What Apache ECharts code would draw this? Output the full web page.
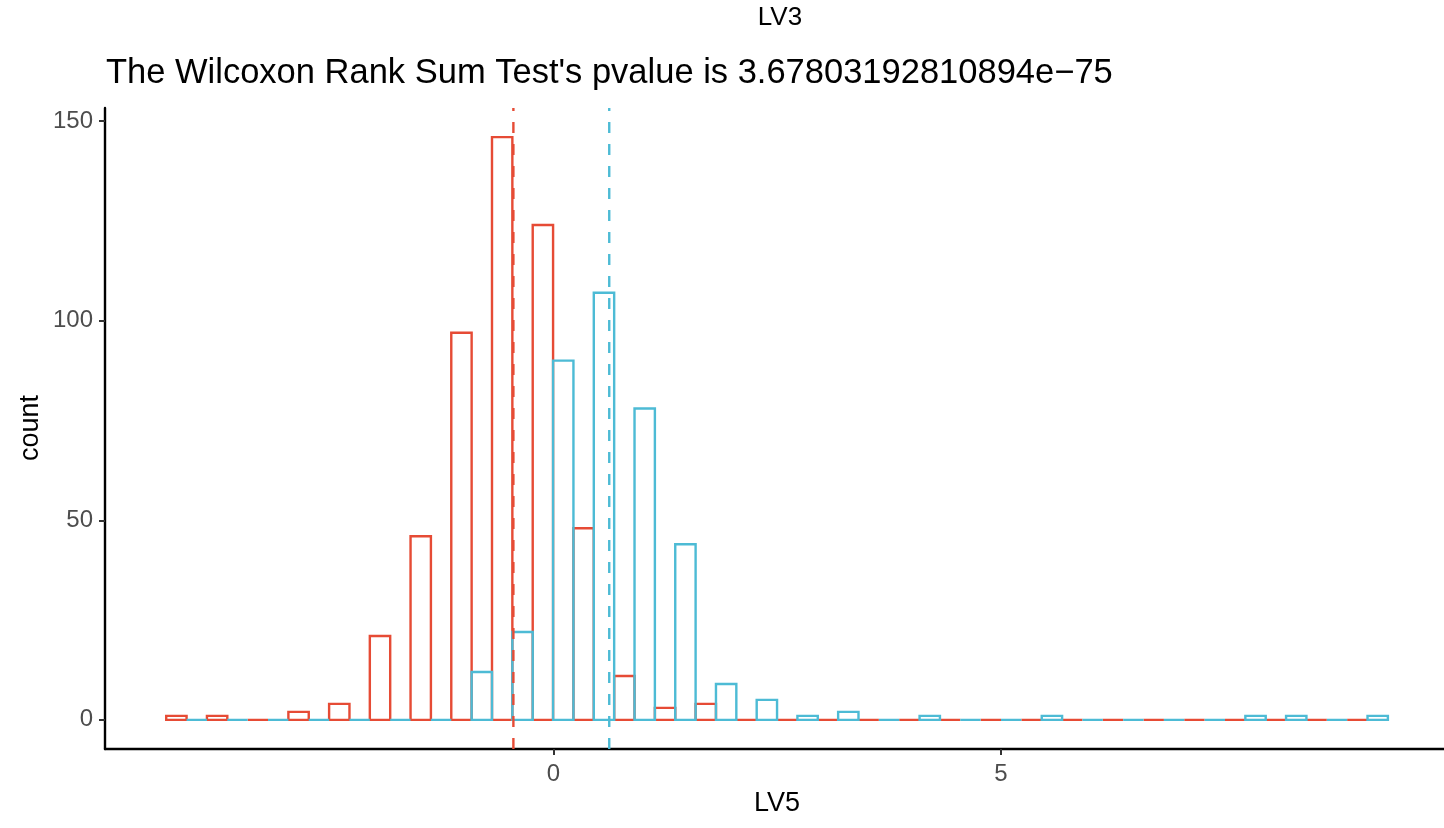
<!DOCTYPE html>
<html>
<head>
<meta charset="utf-8">
<script src="https://cdn.jsdelivr.net/npm/echarts@6/dist/echarts.min.js"></script>
<style>
  html, body { margin: 0; padding: 0; background: #ffffff; }
  #chart { width: 1444px; height: 828px; }
</style>
</head>
<body>
<div id="chart"></div>
<script>
// ---- data ----
const binLefts = [-4.325, -3.870, -3.415, -2.960, -2.505, -2.050, -1.595, -1.140, -0.685, -0.230,
                  0.225, 0.680, 1.135, 1.590, 2.045, 2.500, 2.955, 3.410, 3.865, 4.320,
                  4.775, 5.230, 5.685, 6.140, 6.595, 7.050, 7.505, 7.960, 8.415, 8.870];
const binWidth = 0.455;
const redCounts  = [1, 1, 0, 2, 4, 21, 46, 97, 146, 124, 48, 11, 3, 4, 0, 0, 0, 0, 0, 0,
                    0, 0, 0, 0, 0, 0, 0, 0, 0, 0];
const blueCounts = [0, 0, 0, 0, 0, 0, 0, 12, 22, 90, 107, 78, 44, 9, 5, 1, 2, 0, 1, 0,
                    0, 1, 0, 0, 0, 0, 1, 1, 0, 1];
const redMean = -0.446;
const blueMean = 0.625;
const xTicks = [0, 5];
const yTicks = [0, 50, 100, 150];
const titleText = 'LV3';
const subtitleText = "The Wilcoxon Rank Sum Test's pvalue is 3.67803192810894e\u221275";
const xName = 'LV5';
const yName = 'count';

const RED = '#E64B35';
const BLUE = '#4DBBD5';
const FONT = "'Liberation Sans', Arial, Helvetica, sans-serif";

const xMin = -5.009, xMax = 9.952;
const yMin = -7.3, yMax = 153.3;

function barData(counts, half) {
  return counts.map((c, i) => {
    const l = binLefts[i] + half * binWidth / 2;
    return [l, l + binWidth / 2, c];
  });
}

function renderBar(color) {
  return function (params, api) {
    const p0 = api.coord([api.value(0), 0]);
    const p1 = api.coord([api.value(1), api.value(2)]);
    return {
      type: 'rect',
      shape: { x: p0[0], y: p1[1], width: p1[0] - p0[0], height: p0[1] - p1[1] },
      style: { fill: 'none', stroke: color, lineWidth: 2.4 }
    };
  };
}

const chart = echarts.init(document.getElementById('chart'), null, { renderer: 'canvas' });

const axisLabelStyle = { color: '#4D4D4D', fontSize: 24, fontFamily: FONT };

chart.setOption({
  backgroundColor: '#ffffff',
  animation: false,
  grid: { left: 105, right: 0, top: 108, bottom: 79, containLabel: false },
  xAxis: {
    type: 'value', min: xMin, max: xMax,
    axisLine: { show: true, onZero: false, lineStyle: { color: '#000', width: 2.4 } },
    axisTick: { show: true, customValues: xTicks, length: 6, lineStyle: { color: '#333', width: 2 } },
    axisLabel: Object.assign({ customValues: xTicks, margin: 13 }, axisLabelStyle),
    splitLine: { show: false }
  },
  yAxis: {
    type: 'value', min: yMin, max: yMax,
    axisLine: { show: true, onZero: false, lineStyle: { color: '#000', width: 2.4 } },
    axisTick: { show: true, customValues: yTicks, length: 6, lineStyle: { color: '#333', width: 2 } },
    axisLabel: Object.assign({ customValues: yTicks, margin: 12 }, axisLabelStyle),
    splitLine: { show: false }
  },
  graphic: [
    { type: 'text', x: 780, y: 18, style: { text: titleText, font: '26px ' + FONT, fill: '#000', align: 'center', verticalAlign: 'middle' } },
    { type: 'text', x: 106, y: 73, style: { text: subtitleText, font: '34.5px ' + FONT, fill: '#000', align: 'left', verticalAlign: 'middle' } },
    { type: 'text', x: 777, y: 804, style: { text: xName, font: '27px ' + FONT, fill: '#000', align: 'center', verticalAlign: 'middle' } },
    { type: 'text', x: 31, y: 428, rotation: Math.PI / 2, style: { text: yName, font: '27px ' + FONT, fill: '#000', align: 'center', verticalAlign: 'middle' } }
  ],
  series: [
    { type: 'custom', name: 'red', renderItem: renderBar(RED), data: barData(redCounts, 0), encode: { x: [0, 1], y: 2 }, z: 2 },
    { type: 'custom', name: 'blue', renderItem: renderBar(BLUE), data: barData(blueCounts, 1), encode: { x: [0, 1], y: 2 }, z: 2 },
    { type: 'line', name: 'redMean', data: [[redMean, yMin], [redMean, yMax]], symbol: 'none', silent: true,
      lineStyle: { color: RED, width: 2.4, type: [11, 11] }, z: 3 },
    { type: 'line', name: 'blueMean', data: [[blueMean, yMin], [blueMean, yMax]], symbol: 'none', silent: true,
      lineStyle: { color: BLUE, width: 2.4, type: [11, 11] }, z: 3 }
  ]
});
</script>
</body>
</html>
